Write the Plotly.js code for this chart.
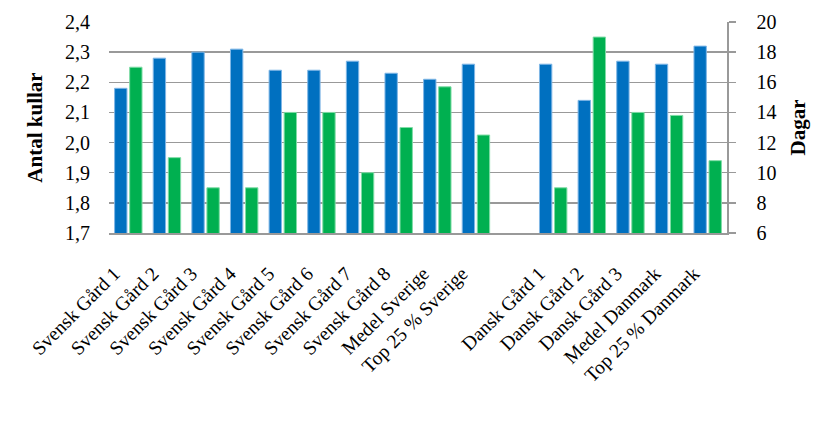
<!DOCTYPE html>
<html>
<head>
<meta charset="utf-8">
<script src="https://cdn.plot.ly/plotly-3.0.1.min.js"></script>
<style>html,body{margin:0;padding:0;background:#fff;}#chart{width:834px;height:428px;}</style>
</head>
<body>
<div id="chart"></div>
<script>
const categories = ["Svensk Gård 1","Svensk Gård 2","Svensk Gård 3","Svensk Gård 4","Svensk Gård 5","Svensk Gård 6","Svensk Gård 7","Svensk Gård 8","Medel Sverige","Top 25 % Sverige"," ","Dansk Gård 1","Dansk Gård 2","Dansk Gård 3","Medel Danmark","Top 25 % Danmark"];
const antalKullar = [2.18,2.28,2.30,2.31,2.24,2.24,2.27,2.23,2.21,2.26,null,2.26,2.14,2.27,2.26,2.32];
const dagar = [17,11,9,9,14,14,10,13,15.7,12.5,null,9,19,14,13.8,10.8];
const leftTicks = [1.7,1.8,1.9,2.0,2.1,2.2,2.3,2.4];
const rightTicks = [6,8,10,12,14,16,18,20];

const FONT = "Liberation Serif, DejaVu Serif, serif";
const traces = [
  {type:"bar", name:"Antal kullar", x:categories, y:antalKullar, yaxis:"y", offsetgroup:"1",
   marker:{color:"#0070C0", line:{color:"#7fb6e6", width:1}}},
  {type:"bar", name:"Dagar", x:categories, y:dagar, yaxis:"y2", offsetgroup:"2",
   marker:{color:"#00B050", line:{color:"#7fdca6", width:1}}}
];
const layout = {
  width:834, height:428,
  margin:{l:109, r:107, t:22, b:195},
  paper_bgcolor:"#fff", plot_bgcolor:"#fff",
  separators:", ",
  showlegend:false,
  barmode:"group", bargap:0.22, bargroupgap:0.18,
  font:{family:FONT, color:"#000", size:20},
  xaxis:{type:"category", tickangle:-45, tickfont:{family:FONT, size:19.5},
         showline:true, linecolor:"#999", linewidth:1.5, ticks:"", showgrid:false,
         ticklabelstandoff:20, ticklabelshift:-14},
  yaxis:{range:[1.7,2.4], tickvals:leftTicks, tickformat:".1f", showgrid:true, gridcolor:"#999", gridwidth:1.5,
         zeroline:false, showline:false, ticks:"", tickfont:{family:FONT, size:20},
         ticklabelstandoff:18,
         title:{text:"<b>Antal kullar</b>", font:{family:FONT, size:21}, standoff:16}},
  yaxis2:{range:[6,20], tickvals:rightTicks, overlaying:"y", side:"right", showgrid:false, zeroline:false,
         showline:true, linecolor:"#999", linewidth:1.5, ticks:"outside", ticklen:7, tickcolor:"#999", tickwidth:1.5,
         tickfont:{family:FONT, size:20}, ticklabelstandoff:17,
         title:{text:"<b>Dagar</b>", font:{family:FONT, size:21}, standoff:15}}
};
Plotly.newPlot("chart", traces, layout, {displayModeBar:false, staticPlot:true});
</script>
</body>
</html>
